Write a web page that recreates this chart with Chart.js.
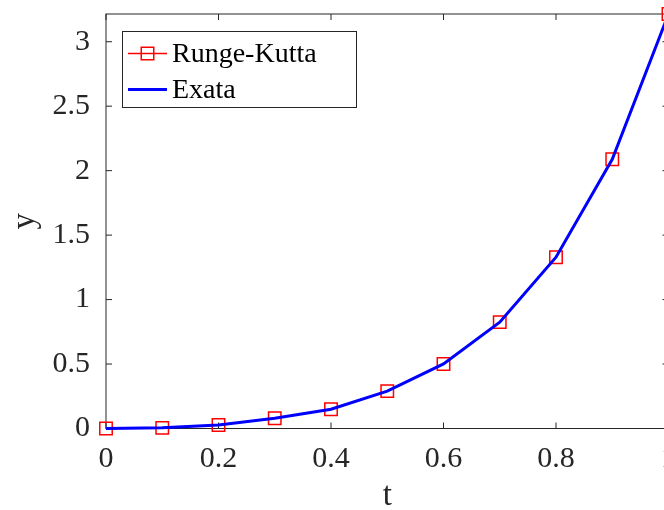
<!DOCTYPE html>
<html><head><meta charset="utf-8">
<script src="https://cdn.jsdelivr.net/npm/chart.js@4"></script>
<style>
html,body{margin:0;padding:0;background:#fff;overflow:hidden;width:664px;height:510px}
#wrap{width:664px;height:510px;overflow:hidden;position:relative}
canvas{display:block}
</style></head>
<body><div id="wrap"><canvas id="c" width="680" height="510" style="width:680px;height:510px"></canvas></div>
<script>
const tValues = [0, 0.1, 0.2, 0.3, 0.4, 0.5, 0.6, 0.7, 0.8, 0.9, 1.0];
const rungeKutta = [0, 0.005, 0.027, 0.079, 0.149, 0.290, 0.501, 0.825, 1.329, 2.088, 3.215];
const exata = [0, 0.005, 0.027, 0.079, 0.149, 0.290, 0.501, 0.825, 1.329, 2.088, 3.215];
const xTickValues = [0, 0.2, 0.4, 0.6, 0.8, 1];
const xTickLabels = ['0', '0.2', '0.4', '0.6', '0.8', '1'];
const yTickValues = [0, 0.5, 1, 1.5, 2, 2.5, 3];
const yTickLabels = ['0', '0.5', '1', '1.5', '2', '2.5', '3'];
const seriesLabels = ['Runge-Kutta', 'Exata'];
const xTitle = 't';
const yTitle = 'y';

const AXIS_COLOR = '#262626';
const SERIF = '"Liberation Serif", "Times New Roman", serif';

const framePlugin = {
  id: 'frame',
  beforeDatasetsDraw(chart) {
    const ctx = chart.ctx, a = chart.chartArea;
    const xs = chart.scales.x, ys = chart.scales.y;
    ctx.save();
    ctx.strokeStyle = AXIS_COLOR;
    ctx.lineWidth = 1;
    ctx.strokeRect(a.left, a.top, a.right - a.left, a.bottom - a.top);
    const tl = 6;
    ctx.beginPath();
    xTickValues.forEach(v => {
      const px = xs.getPixelForValue(v);
      ctx.moveTo(px, a.bottom); ctx.lineTo(px, a.bottom - tl);
      ctx.moveTo(px, a.top); ctx.lineTo(px, a.top + tl);
    });
    yTickValues.forEach(v => {
      const py = ys.getPixelForValue(v);
      ctx.moveTo(a.left, py); ctx.lineTo(a.left + tl, py);
      ctx.moveTo(a.right, py); ctx.lineTo(a.right - tl, py);
    });
    ctx.stroke();
    ctx.restore();
  }
};

const legendPlugin = {
  id: 'boxLegend',
  afterDraw(chart) {
    const ctx = chart.ctx, a = chart.chartArea;
    const order = [1, 0];
    const items = order.map(i => chart.data.datasets[i]);
    ctx.save();
    ctx.font = '28px ' + SERIF;
    const tw = Math.max(...items.map(d => ctx.measureText(d.label).width));
    const bx = a.left + 16, by = a.top + 17, bw = 50 + tw + 39, bh = 76;
    ctx.fillStyle = '#fff';
    ctx.fillRect(bx, by, bw, bh);
    ctx.strokeStyle = AXIS_COLOR;
    ctx.lineWidth = 1;
    ctx.strokeRect(Math.round(bx) + 0.5, Math.round(by) + 0.5, Math.round(bw), Math.round(bh));
    items.forEach((d, i) => {
      const cy = by + 22.5 + i * 36;
      const x0 = bx + 6, x1 = bx + 45;
      ctx.strokeStyle = d.borderColor;
      ctx.lineWidth = d.borderWidth;
      ctx.beginPath(); ctx.moveTo(x0, cy); ctx.lineTo(x1, cy); ctx.stroke();
      if (d.pointRadius > 0) {
        const s = 12.5, cx = (x0 + x1) / 2;
        ctx.strokeStyle = d.pointBorderColor;
        ctx.lineWidth = d.pointBorderWidth;
        ctx.strokeRect(cx - s / 2, cy - s / 2, s, s);
      }
      ctx.fillStyle = '#000';
      ctx.textBaseline = 'middle';
      ctx.textAlign = 'left';
      ctx.fillText(d.label, bx + 50, cy + 1.5);
    });
    ctx.restore();
  }
};

const toPts = arr => tValues.map((t, i) => ({ x: t, y: arr[i] }));
const noPad = s => { s.paddingLeft = 0; s.paddingRight = 0; s.paddingTop = 0; s.paddingBottom = 0; };

new Chart(document.getElementById('c'), {
  type: 'line',
  data: {
    datasets: [
      {
        label: seriesLabels[1],
        data: toPts(exata),
        borderColor: '#0000ff',
        borderWidth: 3,
        pointRadius: 0,
        tension: 0,
        fill: false,
        clip: false,
        order: 0
      },
      {
        label: seriesLabels[0],
        data: toPts(rungeKutta),
        borderColor: '#ff0000',
        borderWidth: 1.5,
        pointStyle: 'rect',
        pointRadius: 8.8,
        pointBorderColor: '#ff0000',
        pointBackgroundColor: 'rgba(0,0,0,0)',
        pointBorderWidth: 1.5,
        tension: 0,
        fill: false,
        clip: false,
        order: 1
      }
    ]
  },
  options: {
    responsive: false,
    animation: false,
    devicePixelRatio: 1,
    layout: { padding: { top: 14, right: 11.5, left: 0, bottom: 0 } },
    plugins: { legend: { display: false }, tooltip: { enabled: false } },
    scales: {
      x: {
        type: 'linear', min: 0, max: 1,
        grid: { display: false, drawTicks: false },
        border: { display: false },
        afterBuildTicks: s => { s.ticks = xTickValues.map(v => ({ value: v })); },
        afterFit: s => { s.height = 81.5; noPad(s); },
        ticks: {
          padding: 13,
          color: AXIS_COLOR,
          font: { family: SERIF, size: 30 },
          maxRotation: 0,
          autoSkip: false,
          callback: (v) => xTickLabels[xTickValues.indexOf(v)]
        },
        title: {
          display: true, text: xTitle, color: AXIS_COLOR,
          font: { family: SERIF, size: 33, lineHeight: 0.85 },
          padding: { top: 0, bottom: 0 }
        }
      },
      y: {
        type: 'linear', min: 0, max: Math.max(...rungeKutta, ...exata),
        grid: { display: false, drawTicks: false },
        border: { display: false },
        afterBuildTicks: s => { s.ticks = yTickValues.map(v => ({ value: v })); },
        afterFit: s => { s.width = 106; noPad(s); },
        ticks: {
          padding: 16,
          color: AXIS_COLOR,
          font: { family: SERIF, size: 30 },
          autoSkip: false,
          callback: (v) => yTickLabels[yTickValues.indexOf(v)]
        },
        title: {
          display: true, text: yTitle, color: AXIS_COLOR,
          font: { family: SERIF, size: 33, lineHeight: 1 },
          padding: { top: 9, bottom: 0 }
        }
      }
    }
  },
  plugins: [framePlugin, legendPlugin]
});
</script>
</body></html>
